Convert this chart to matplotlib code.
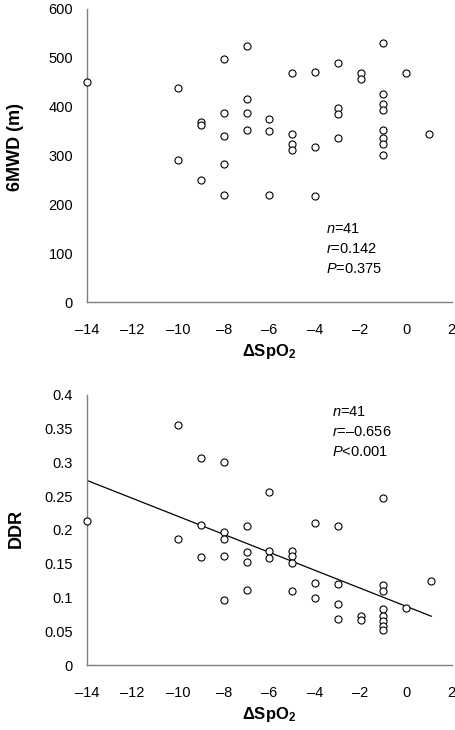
import numpy as np
import matplotlib
matplotlib.use("Agg")
import matplotlib.pyplot as plt
from matplotlib.ticker import FuncFormatter, MultipleLocator

plt.rcParams['font.family'] = ['Liberation Sans', 'DejaVu Sans']
plt.rcParams['mathtext.fontset'] = 'custom'
plt.rcParams['mathtext.rm'] = 'Liberation Sans'
plt.rcParams['mathtext.it'] = 'Liberation Sans:italic'
plt.rcParams['mathtext.bf'] = 'Liberation Sans:bold'

# delta SpO2 per patient
spo2_top = [-14, -10, -10, -9, -9, -9, -8, -8, -8, -8, -8, -7, -7, -7, -7,
            -6, -6, -6, -5, -5, -5, -5, -4, -4, -4, -3, -3, -3, -3, -2, -2,
            -1, -1, -1, -1, -1, -1, -1, -1, 0, 1]
mwd6 = [450, 438, 290, 368, 362, 250, 496, 386, 339, 283, 219, 523, 416, 386, 352,
        374, 349, 219, 468, 343, 323, 310, 471, 317, 216, 488, 396, 384, 335, 468, 456,
        529, 426, 405, 392, 352, 335, 323, 300, 468, 343]

spo2_bot = [-14, -10, -10, -9, -9, -9, -8, -8, -8, -8, -8, -7, -7, -7, -7,
            -6, -6, -6, -5, -5, -5, -5, -4, -4, -4, -3, -3, -3, -3, -2, -2,
            -1, -1, -1, -1, -1, -1, -1, -1, 0, 1.1]
ddr = [0.213, 0.356, 0.186, 0.306, 0.208, 0.160, 0.301, 0.197, 0.186, 0.162, 0.097,
       0.206, 0.167, 0.153, 0.111, 0.256, 0.169, 0.158, 0.169, 0.162, 0.151, 0.109,
       0.211, 0.122, 0.099, 0.206, 0.120, 0.090, 0.068, 0.073, 0.066,
       0.248, 0.118, 0.110, 0.083, 0.072, 0.065, 0.058, 0.052, 0.085, 0.124]

stats_top = ["$n$=41", "$r$=0.142", "$P$=0.375"]
stats_bot = ["$n$=41", "$r$=\u20130.656", "$P$<0.001"]

fig = plt.figure(figsize=(4.56, 7.30), dpi=100)
ax1 = fig.add_axes([0.1908, 0.5863, 0.800, 0.402])
ax2 = fig.add_axes([0.1908, 0.0890, 0.800, 0.370])

dash_fmt = FuncFormatter(lambda v, p: ('%g' % v).replace('-', '\u2013'))

for ax in (ax1, ax2):
    for s in ('top', 'right'):
        ax.spines[s].set_visible(False)
    for s in ('left', 'bottom'):
        ax.spines[s].set_color('#7f7f7f')
        ax.spines[s].set_linewidth(1.0)
    ax.set_xlim(-14, 2)
    ax.xaxis.set_major_locator(MultipleLocator(2))
    ax.xaxis.set_major_formatter(dash_fmt)
    ax.yaxis.set_major_formatter(FuncFormatter(lambda v, p: '%g' % round(v, 3)))
    ax.tick_params(axis='x', length=0, pad=15, labelsize=10.5)
    ax.tick_params(axis='y', length=0, pad=10, labelsize=10.5)
    ax.set_xlabel(r'$\mathbf{\Delta SpO_2}$', fontsize=12, labelpad=4)

# top panel
ax1.scatter(spo2_top, mwd6, s=26, facecolors='white', edgecolors='black',
            linewidths=0.8, clip_on=False, zorder=3)
ax1.set_ylim(0, 600)
ax1.yaxis.set_major_locator(MultipleLocator(100))
ax1.set_ylabel('6MWD (m)', fontsize=13, fontweight='bold', va='center')
ax1.yaxis.set_label_coords(-0.195, 0.528)
for i, t in enumerate(stats_top):
    ax1.text(-3.5, 150 - i * 41, t, fontsize=10.5, va='center', ha='left')

# bottom panel
ax2.scatter(spo2_bot, ddr, s=26, facecolors='white', edgecolors='black',
            linewidths=0.8, clip_on=False, zorder=3)
k, b = np.polyfit(spo2_bot, ddr, 1)
xs = np.array([min(spo2_bot), max(spo2_bot)])
ax2.plot(xs, k * xs + b, color='black', linewidth=0.9, zorder=2)
ax2.set_ylim(0, 0.4)
ax2.yaxis.set_major_locator(MultipleLocator(0.05))
ax2.set_ylabel('DDR', fontsize=13, fontweight='bold', va='center')
ax2.yaxis.set_label_coords(-0.195, 0.507)
for i, t in enumerate(stats_bot):
    ax2.text(-3.25, 0.375 - i * 0.03, t, fontsize=10.5, va='center', ha='left')

plt.savefig('out.png', dpi=100)
